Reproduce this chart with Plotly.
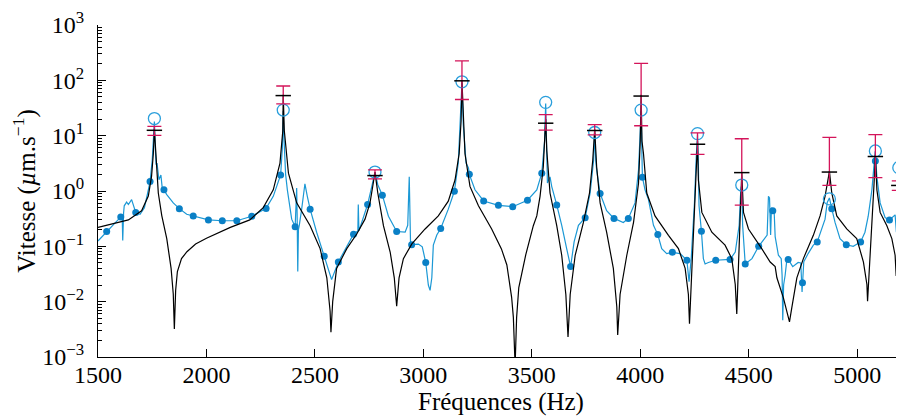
import plotly.graph_objects as go

# ---- model (black) curve ----
model_f = [1500, 1640, 1701, 1732, 1747, 1755, 1760, 1766, 1778, 1794, 1817, 1837, 1847, 1852, 1858, 1866,
           1885, 1910, 1950, 2000, 2060, 2110, 2200, 2262, 2308, 2339, 2352, 2354, 2359, 2378, 2416, 2478,
           2524, 2555, 2570, 2574, 2582, 2600, 2647, 2693, 2731, 2754, 2769, 2777, 2790, 2816, 2847, 2866,
           2877, 2888, 2908, 2947, 3008, 3069, 3115, 3146, 3165, 3174, 3178, 3184, 3192, 3215, 3254, 3315,
           3360, 3385, 3400, 3407, 3415, 3423, 3430, 3440, 3472, 3507, 3523, 3538, 3553, 3561, 3564, 3569,
           3584, 3615, 3638, 3657, 3667, 3677, 3700, 3738, 3766, 3781, 3790, 3799, 3815, 3845, 3876, 3892,
           3896, 3907, 3938, 3969, 3992, 4000, 4004, 4008, 4015, 4030, 4068, 4130, 4176, 4207, 4222, 4227,
           4235, 4245, 4256, 4264, 4268, 4284, 4330, 4391, 4422, 4438, 4445, 4453, 4461, 4466, 4468, 4476,
           4499, 4560, 4599, 4622, 4630, 4660, 4679, 4688, 4699, 4722, 4752, 4798, 4829, 4852, 4868, 4872,
           4883, 4906, 4952, 4998, 5029, 5045, 5048, 5056, 5068, 5078, 5084, 5091, 5106, 5137, 5160, 5175,
           5180, 5184, 5189, 5192, 5201, 5216]
model_v = [0.22, 0.30, 0.44, 0.81, 1.85, 4.7, 13, 4.7, 0.92, 0.36, 0.138, 0.04, 0.0138, 0.0032, 0.016, 0.035,
           0.06, 0.08, 0.11, 0.14, 0.18, 0.22, 0.30, 0.5, 1.05, 3.2, 12.3, 55, 12.3, 2.1, 0.61, 0.236,
           0.091, 0.027, 0.0068, 0.0028, 0.01, 0.04, 0.091, 0.167, 0.31, 0.61, 1.38, 2.2, 0.92, 0.236, 0.079, 0.027,
           0.0083, 0.027, 0.06, 0.111, 0.206, 0.355, 0.656, 1.58, 4.7, 18.6, 98, 18.6, 4.7, 1.21, 0.54, 0.206,
           0.09, 0.046, 0.018, 0.012, 0.0052, 0.0007, 0.0052, 0.018, 0.07, 0.236, 0.355, 0.80, 2.75, 10.7, 20, 5.4,
           0.92, 0.236, 0.069, 0.0135, 0.0023, 0.0135, 0.069, 0.27, 0.92, 3.6, 13, 2.75, 0.61, 0.18, 0.04, 0.008,
           0.0025, 0.0135, 0.069, 0.27, 1.38, 8, 55, 8, 4.7, 0.92, 0.355, 0.158, 0.091, 0.04, 0.0135, 0.004,
           0.0204, 0.31, 2.4, 8, 1.58, 0.41, 0.18, 0.105, 0.06, 0.0204, 0.006, 0.04, 0.21, 1.21, 2.2, 0.41,
           0.206, 0.091, 0.052, 0.043, 0.027, 0.0117, 0.006, 0.0043, 0.0079, 0.027, 0.06, 0.158, 0.355, 0.8, 1.82, 2.3,
           0.92, 0.355, 0.206, 0.138, 0.052, 0.0204, 0.0102, 0.035, 0.27, 1.38, 4.5, 1.05, 0.41, 0.236, 0.138, 0.069,
           0.029, 0.138, 1.05, 1.5, 0.355, 0.25]

# ---- measured (blue) curve ----
meas_f = [1500, 1540, 1571, 1605, 1612, 1614, 1618, 1621, 1632, 1640, 1655, 1663, 1674, 1694, 1714, 1729,
          1740, 1750, 1756, 1760, 1764, 1768, 1772, 1781, 1790, 1797, 1804, 1817, 1847, 1875, 1909, 1939,
          2009, 2073, 2140, 2209, 2275, 2308, 2342, 2350, 2354, 2358, 2365, 2373, 2393, 2409, 2414, 2416,
          2418, 2421, 2424, 2428, 2439, 2454, 2465, 2478, 2508, 2543, 2577, 2608, 2639, 2678, 2698, 2700,
          2703, 2716, 2743, 2762, 2777, 2790, 2811, 2839, 2877, 2916, 2928, 2935, 2938, 2941, 2946, 2977,
          2995, 3011, 3023, 3031, 3039, 3046, 3062, 3080, 3115, 3143, 3161, 3172, 3178, 3184, 3192, 3197,
          3208, 3212, 3238, 3278, 3346, 3412, 3480, 3523, 3546, 3559, 3564, 3569, 3572, 3584, 3592, 3615,
          3638, 3661, 3679, 3695, 3715, 3746, 3769, 3785, 3790, 3795, 3799, 3815, 3845, 3879, 3922, 3945,
          3976, 3992, 3999, 4004, 4008, 4010, 4022, 4038, 4061, 4081, 4099, 4122, 4148, 4184, 4215, 4225,
          4235, 4250, 4258, 4264, 4268, 4271, 4282, 4291, 4299, 4314, 4348, 4383, 4414, 4438, 4456, 4462,
          4466, 4470, 4472, 4484, 4515, 4546, 4585, 4591, 4596, 4601, 4605, 4611, 4617, 4622, 4637, 4650,
          4654, 4657, 4661, 4668, 4675, 4682, 4703, 4728, 4740, 4746, 4748, 4750, 4754, 4774, 4798, 4816,
          4836, 4852, 4862, 4872, 4883, 4898, 4921, 4950, 4982, 5016, 5036, 5051, 5068, 5078, 5083, 5086,
          5091, 5106, 5129, 5149, 5167, 5175, 5181, 5186, 5192, 5198, 5205, 5211, 5216]
meas_v = [0.125, 0.185, 0.25, 0.34, 0.30, 0.128, 0.40, 0.54, 0.63, 0.57, 0.70, 0.54, 0.41, 0.38, 0.50, 0.92,
          1.48, 3.6, 8, 18, 6, 3.0, 3.2, 1.6, 1.95, 1.05, 1.05, 0.86, 0.61, 0.48, 0.38, 0.355,
          0.30, 0.29, 0.29, 0.35, 0.485, 0.8, 1.95, 6, 28, 8, 2.0, 1.05, 0.31, 0.226, 0.8, 1.13,
          0.4, 0.035, 0.2, 0.24, 0.47, 1.35, 0.80, 0.47, 0.18, 0.066, 0.025, 0.052, 0.085, 0.166, 0.19, 0.57,
          0.19, 0.27, 0.57, 1.2, 2.2, 1.3, 0.84, 0.35, 0.185, 0.18, 0.24, 1.8, 0.6, 0.11, 0.107, 0.11,
          0.098, 0.051, 0.02, 0.016, 0.027, 0.105, 0.16, 0.21, 0.47, 0.99, 3.2, 20, 90, 16, 4.7, 3.2,
          2.6, 2.0, 1.05, 0.66, 0.55, 0.52, 0.68, 1.05, 2.1, 8, 38, 5, 1.4, 1.8, 1.2, 0.56,
          0.24, 0.09, 0.043, 0.12, 0.24, 0.33, 0.92, 3.6, 11, 3.5, 2.4, 0.9, 0.44, 0.32, 0.27, 0.32,
          0.61, 2.4, 10, 28, 4, 1.78, 1.05, 0.70, 0.24, 0.163, 0.091, 0.074, 0.078, 0.074, 0.056, 0.023,
          0.06, 0.61, 4, 10.5, 3, 0.54, 0.187, 0.06, 0.048, 0.051, 0.056, 0.057, 0.058, 0.079, 0.24, 0.8,
          1.2, 0.6, 0.24, 0.048, 0.06, 0.1, 0.16, 0.8, 0.75, 0.16, 0.5, 0.44, 0.46, 0.15, 0.069, 0.06,
          0.03, 0.0046, 0.02, 0.03, 0.053, 0.058, 0.043, 0.051, 0.05, 0.015, 0.022, 0.03, 0.053, 0.074, 0.105, 0.12,
          0.2, 0.31, 0.62, 0.75, 0.48, 0.27, 0.138, 0.107, 0.10, 0.12, 0.18, 0.35, 1.05, 2.8, 5.2, 3.5,
          1.8, 0.61, 0.33, 0.30, 0.35, 0.37, 0.18, 1.05, 2.6, 0.55, 0.2, 0.16, 0.17]

# ---- measured sample markers (dots) ----
dot_f = [1540, 1605, 1674, 1740, 1804, 1875, 1939, 2009, 2073, 2140, 2209, 2275, 2342, 2409, 2478, 2543,
         2608, 2678, 2743, 2811, 2877, 2946, 3011, 3080, 3143, 3212, 3278, 3346, 3412, 3480, 3546, 3615,
         3679, 3746, 3815, 3879, 3945, 4010, 4081, 4148, 4215, 4282, 4348, 4414, 4484, 4546, 4611, 4682,
         4748, 4816, 4883, 4950, 5016, 5084, 5149, 5211]
dot_v = [0.185, 0.34, 0.41, 1.48, 1.05, 0.48, 0.355, 0.30, 0.29, 0.29, 0.35, 0.485, 1.95, 0.226, 0.47, 0.066,
         0.052, 0.166, 0.57, 0.84, 0.185, 0.107, 0.051, 0.21, 0.99, 2.0, 0.66, 0.55, 0.52, 0.68, 2.1, 0.56,
         0.043, 0.33, 0.9, 0.32, 0.32, 1.78, 0.163, 0.078, 0.056, 0.187, 0.056, 0.058, 0.048, 0.1, 0.44, 0.058,
         0.022, 0.12, 0.48, 0.107, 0.12, 3.5, 0.30, 0.16]

# ---- resonance peaks ----
peak_f = [1760, 2354, 2777, 3178, 3564, 3790, 4004, 4264, 4468, 4872, 5084, 5192]
peak_meas = [20.4, 29, 2.2, 94, 40, 11.4, 29, 10.9, 1.28, 0.72, 5.3, 2.64]
peak_est = [12.5, 53, 1.9, 98, 16.8, 12.4, 52, 7.0, 2.15, 2.2, 4.2, 1.26]
peak_lo = [10.1, 37.6, 1.65, 45, 12.6, 10.3, 15.1, 4.6, 0.557, 1.26, 1.75, 1.03]
peak_hi = [14.7, 79, 2.4, 225, 24, 15.8, 203, 11.2, 8.8, 9.3, 10.4, 1.53]

err_plus = [h - c for h, c in zip(peak_hi, peak_est)]
err_minus = [c - l for c, l in zip(peak_est, peak_lo)]

BLUE_LINE = "#1b98d5"
BLUE_DOT = "#0a80c6"
CRIMSON = "#d4145a"
FONT = "Times New Roman, Liberation Serif, Tinos, serif"

fig = go.Figure()
fig.add_trace(go.Scatter(x=meas_f, y=meas_v, mode="lines",
                         line=dict(color=BLUE_LINE, width=1.2), showlegend=False))
fig.add_trace(go.Scatter(x=dot_f, y=dot_v, mode="markers",
                         marker=dict(color=BLUE_DOT, size=7), showlegend=False))
fig.add_trace(go.Scatter(x=model_f, y=model_v, mode="lines",
                         line=dict(color="black", width=1.2), showlegend=False))
fig.add_trace(go.Scatter(x=peak_f, y=peak_meas, mode="markers",
                         marker=dict(symbol="circle-open", size=12, color="#2a9fdc",
                                     line=dict(width=1.3, color="#2a9fdc")),
                         showlegend=False))
fig.add_trace(go.Scatter(x=peak_f, y=peak_est, mode="markers",
                         marker=dict(symbol="line-ew-open", size=11, color="black",
                                     line=dict(width=1.5, color="black")),
                         error_y=dict(type="data", symmetric=False, array=err_plus,
                                      arrayminus=err_minus, color=CRIMSON,
                                      thickness=1.3, width=7),
                         showlegend=False))

y_ticks = [1e-3, 1e-2, 1e-1, 1, 10, 100, 1000]
y_text = ["10<sup>−3</sup>", "10<sup>−2</sup>", "10<sup>−1</sup>", "10<sup>0</sup>",
          "10<sup>1</sup>", "10<sup>2</sup>", "10<sup>3</sup>"]
minor_vals = [m * 10 ** e for e in range(-3, 3) for m in range(2, 10)]

# page body has an 8px default margin: size the figure so the plot area lands where the reference has it
fig.update_layout(
    width=896, height=411,
    margin=dict(l=90, r=0, t=11, b=62),
    paper_bgcolor="white", plot_bgcolor="white",
    font=dict(family=FONT, size=24, color="black"),
    xaxis=dict(range=[1500, 5216], tickvals=[1500, 2000, 2500, 3000, 3500, 4000, 4500, 5000],
               ticks="inside", ticklen=8, tickwidth=1, tickcolor="black",
               showline=True, linecolor="black", linewidth=1, mirror=False,
               showgrid=False, zeroline=False, ticklabelstandoff=-4,
               tickfont=dict(family=FONT, size=24),
               title=dict(text="Fréquences (Hz)", standoff=2, font=dict(family=FONT, size=25))),
    yaxis=dict(type="log", range=[-3, 3], tickmode="array", tickvals=y_ticks, ticktext=y_text,
               ticks="inside", ticklen=8, tickwidth=1, tickcolor="black",
               minor=dict(tickmode="array", tickvals=minor_vals, ticks="inside", ticklen=4,
                          tickcolor="black", showgrid=False),
               showline=True, linecolor="black", linewidth=1, mirror=False,
               showgrid=False, zeroline=False, ticklabelstandoff=8, ticklabeloverflow="allow",
               tickfont=dict(family=FONT, size=24),
               title=dict(text="Vitesse (<i>µ</i>m.s<sup>−1</sup>)", standoff=2,
                          font=dict(family=FONT, size=25))),
)

fig.write_html("out.html")
